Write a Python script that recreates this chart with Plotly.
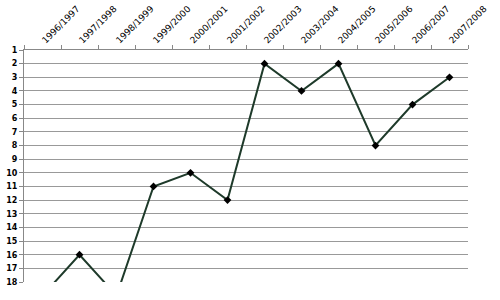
import plotly.graph_objects as go

seasons = ["1996/1997", "1997/1998", "1998/1999", "1999/2000", "2000/2001", "2001/2002",
           "2002/2003", "2003/2004", "2004/2005", "2005/2006", "2006/2007", "2007/2008"]
positions = [19, 16, 19, 11, 10, 12, 2, 4, 2, 8, 5, 3]
y_ticks = list(range(1, 19))

fig = go.Figure()
fig.add_trace(go.Scatter(
    x=seasons, y=positions, mode="lines+markers",
    line=dict(color="#1e3a2a", width=2),
    marker=dict(symbol="diamond", size=6, color="black"),
    cliponaxis=True,
))

fig.update_layout(
    width=500, height=300,
    margin=dict(l=24, r=32, t=50, b=18),
    paper_bgcolor="white", plot_bgcolor="white",
    showlegend=False,
    font=dict(family="DejaVu Sans", size=8, color="black"),
    xaxis=dict(
        side="top", tickangle=-45, type="category", automargin=False,
        showgrid=False, showline=True, linecolor="#888888", linewidth=1,
        ticks="outside", ticklen=4, tickcolor="#888888",
        tickson="boundaries",
        tickfont=dict(family="DejaVu Sans", size=9, color="black"),
        range=[-0.5, 11.5],
    ),
    yaxis=dict(
        range=[18, 1], tickvals=y_ticks, ticktext=[str(v) for v in y_ticks],
        automargin=False,
        showgrid=True, gridcolor="#999999", gridwidth=1,
        showline=True, linecolor="#888888", linewidth=1,
        ticks="outside", ticklen=4, tickcolor="#888888",
        tickfont=dict(family="DejaVu Sans", size=8, color="black", weight="bold"),
        zeroline=False,
    ),
)

fig.write_html("out.html")
